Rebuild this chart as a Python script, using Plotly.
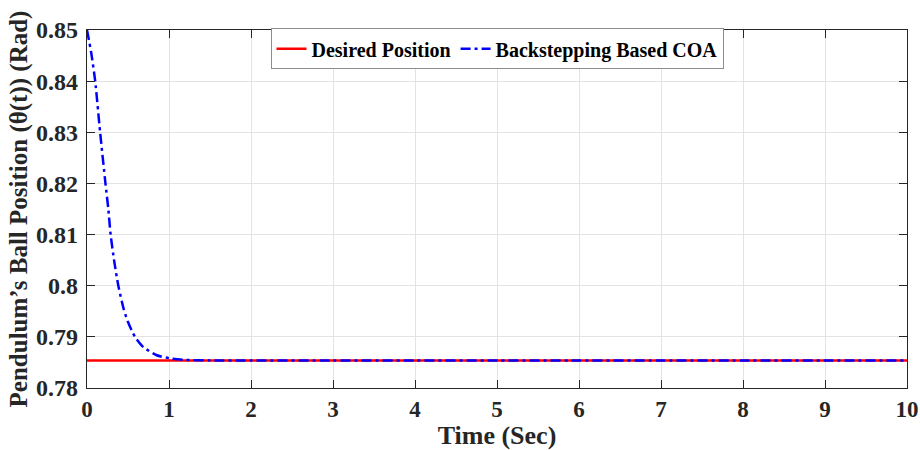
import plotly.graph_objects as go

# Data
t_desired = [0, 10]
theta_desired = [0.7854, 0.7854]

t_coa = [0, 0.05, 0.10, 0.16, 0.225, 0.26, 0.288, 0.33, 0.382, 0.45, 0.5, 0.585,
         0.687, 0.85, 1.01, 1.2, 1.5, 2, 3, 4, 5, 6, 7, 8, 9, 10]
theta_coa = [0.8500, 0.8457, 0.8400, 0.8300, 0.8200, 0.8150, 0.8100, 0.8050, 0.8000,
             0.7953, 0.7929, 0.7900, 0.7880, 0.7864, 0.7858, 0.7855, 0.7854, 0.7854,
             0.7854, 0.7854, 0.7854, 0.7854, 0.7854, 0.7854, 0.7854, 0.7854]

x_ticks = list(range(0, 11))
y_ticks = [0.78, 0.79, 0.80, 0.81, 0.82, 0.83, 0.84, 0.85]
y_ticktext = ["0.78", "0.79", "0.8", "0.81", "0.82", "0.83", "0.84", "0.85"]

FONT = "Liberation Serif, Times New Roman, serif"

fig = go.Figure()
fig.add_trace(go.Scatter(x=t_desired, y=theta_desired, mode="lines",
                         name="Desired Position",
                         line=dict(color="#ff0000", width=2.5)))
fig.add_trace(go.Scatter(x=t_coa, y=theta_coa, mode="lines",
                         name="Backstepping Based COA",
                         line=dict(color="#0000ff", width=2.5, dash="10px,4px,3px,4px",
                                   shape="spline", smoothing=0.6)))

axis_common = dict(showline=True, linecolor="#262626", linewidth=1.2, mirror="ticks",
                   ticks="inside", ticklen=8, tickcolor="#262626", tickwidth=1.2,
                   showgrid=True, gridcolor="#e3e3e3", gridwidth=1, zeroline=False,
                   automargin=False)

fig.update_xaxes(range=[0, 10], tickvals=x_ticks, **axis_common,
                 tickfont=dict(family=FONT, size=23, color="#262626", weight="bold"),
                 title=dict(text="Time (Sec)", standoff=2,
                            font=dict(family=FONT, size=26, color="#262626", weight="bold")))
fig.update_yaxes(range=[0.78, 0.85], tickvals=y_ticks, ticktext=y_ticktext, **axis_common,
                 tickfont=dict(family=FONT, size=24, color="#262626", weight="bold"),
                 ticklabelstandoff=3,
                 title=dict(text="Pendulum’s Ball Position (θ(t)) (Rad)", standoff=1,
                            font=dict(family=FONT, size=25, color="#262626", weight="bold")))

fig.update_layout(
    width=920, height=450,
    margin=dict(l=87, r=13, t=30, b=62),
    plot_bgcolor="white", paper_bgcolor="white",
    showlegend=True,
    legend=dict(orientation="h", x=0.5, xanchor="center", y=1.005, yanchor="top",
                bgcolor="white", bordercolor="#8c8c8c", borderwidth=1,
                font=dict(family=FONT, size=20, color="black", weight="bold"),
                itemwidth=30, tracegroupgap=0),
)

fig.write_html("out.html")
